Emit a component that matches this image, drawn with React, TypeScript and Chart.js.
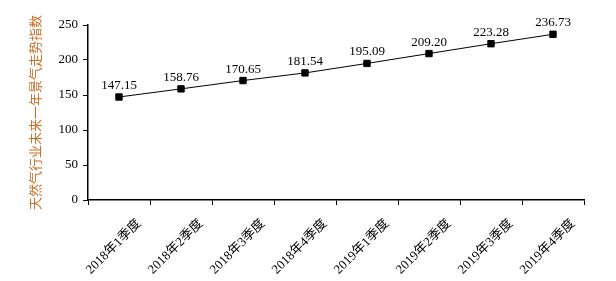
import React, { useEffect, useRef } from "react";
import { Chart, registerables } from "chart.js";

Chart.register(...registerables);

const categories = [
  "2018年1季度",
  "2018年2季度",
  "2018年3季度",
  "2018年4季度",
  "2019年1季度",
  "2019年2季度",
  "2019年3季度",
  "2019年4季度",
];
const values = [147.15, 158.76, 170.65, 181.54, 195.09, 209.2, 223.28, 236.73];
const yTicks = [0, 50, 100, 150, 200, 250];
const yTitle = "天然气行业未来一年景气走势指数";

const FONT = '"Liberation Serif", "Times New Roman", "Noto Sans CJK SC", serif';

const valueLabels = {
  id: "valueLabels",
  afterDatasetsDraw(chart: any) {
    const ctx = chart.ctx;
    const meta = chart.getDatasetMeta(0);
    ctx.save();
    ctx.font = `13px ${FONT}`;
    ctx.fillStyle = "#000";
    ctx.textAlign = "center";
    ctx.textBaseline = "alphabetic";
    meta.data.forEach((pt: any, i: number) => {
      ctx.fillText(values[i].toFixed(2), pt.x, pt.y - 8);
    });
    ctx.restore();
  },
};

export default function App() {
  const ref = useRef<HTMLCanvasElement | null>(null);
  useEffect(() => {
    if (!ref.current) return;
    const chart = new Chart(ref.current, {
      type: "line",
      data: {
        labels: categories,
        datasets: [
          {
            data: values,
            borderColor: "#000",
            borderWidth: 1,
            backgroundColor: "#000",
            pointStyle: "rect",
            pointRadius: 4.5,
            pointBorderWidth: 1,
            pointBorderColor: "#000",
            pointBackgroundColor: "#000",
            tension: 0,
          },
        ],
      },
      options: {
        animation: false,
        responsive: true,
        maintainAspectRatio: false,
        layout: { padding: { top: 25, right: 32, left: 0, bottom: 0 } },
        plugins: {
          legend: { display: false },
          tooltip: { enabled: false },
        },
        scales: {
          x: {
            type: "category",
            offset: true,
            grid: {
              offset: true,
              drawOnChartArea: false,
              drawTicks: true,
              tickLength: 5,
              color: "#000",
            },
            border: { color: "#000", width: 1.5 },
            ticks: {
              minRotation: 45,
              maxRotation: 45,
              autoSkip: false,
              labelOffset: 20,
              padding: 11,
              color: "#000",
              font: { family: FONT, size: 13 },
            },
            afterFit: (scale: any) => {
              scale.height = 81;
            },
          },
          y: {
            min: 0,
            max: 250,
            afterBuildTicks: (scale: any) => {
              scale.ticks = yTicks.map((v) => ({ value: v }));
            },
            grid: {
              drawOnChartArea: false,
              drawTicks: true,
              tickLength: 5,
              color: "#000",
            },
            border: { color: "#000", width: 1.5 },
            ticks: {
              color: "#000",
              padding: 5,
              font: { family: FONT, size: 13 },
            },
            title: {
              display: true,
              text: yTitle,
              color: "#C8702A",
              padding: { top: 27, bottom: 4 },
              font: { family: '"Noto Sans CJK SC", sans-serif', size: 13 },
            },
            afterFit: (scale: any) => {
              scale.width = 88;
            },
          },
        },
      },
      plugins: [valueLabels],
    });
    return () => chart.destroy();
  }, []);
  return (
    <div style={{ position: "fixed", left: 0, top: 0, width: 616, height: 281, background: "#fff" }}>
      <canvas ref={ref} />
    </div>
  );
}
